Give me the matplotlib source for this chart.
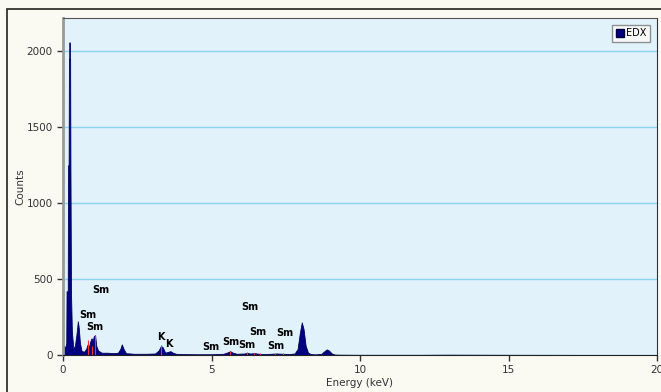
import matplotlib
matplotlib.use("Agg")
import matplotlib.pyplot as plt
from matplotlib.patches import Rectangle
from matplotlib.lines import Line2D

# spectrum outline (energy keV, counts)
energy = [0.00, 0.03, 0.08, 0.11, 0.12, 0.16, 0.17, 0.19, 0.20, 0.215, 0.22, 0.225,
          0.24, 0.25, 0.27, 0.30, 0.35, 0.40, 0.45, 0.50, 0.53, 0.57, 0.62, 0.70,
          0.78, 0.83, 0.87, 0.92, 0.96, 1.00, 1.04, 1.08, 1.12, 1.18, 1.30, 1.50,
          1.70, 1.85, 1.93, 1.98, 2.04, 2.12, 2.40, 2.80, 3.10, 3.22, 3.30, 3.36,
          3.44, 3.52, 3.62, 3.70, 3.80, 4.00, 4.50, 5.00, 5.40, 5.55, 5.63, 5.72,
          5.85, 6.10, 6.20, 6.30, 6.45, 6.60, 6.80, 7.00, 7.20, 7.40, 7.60, 7.80,
          7.90, 7.97, 8.04, 8.10, 8.17, 8.25, 8.35, 8.50, 8.70, 8.80, 8.88, 8.95,
          9.05, 9.15, 9.30, 10.0, 12.0, 13.0, 15.0, 20.0]
counts = [0, 60, 50, 80, 420, 420, 1250, 1250, 1950, 1950, 2060, 1950,
          1950, 1250, 400, 150, 40, 60, 130, 222, 180, 80, 30, 20,
          40, 70, 50, 90, 110, 95, 125, 130, 60, 30, 15, 15,
          12, 15, 40, 70, 40, 12, 8, 8, 10, 30, 60, 50,
          15, 20, 25, 15, 8, 6, 5, 5, 8, 18, 25, 15,
          8, 10, 14, 10, 12, 8, 6, 8, 10, 8, 6, 10,
          40, 140, 215, 170, 60, 15, 6, 4, 8, 25, 37, 30,
          10, 3, 2, 1, 1, 2, 1, 0]

# element marker lines (red)
line_e = [0.84, 0.98, 1.07, 3.31, 5.63, 6.20, 6.42, 6.62, 7.15, 7.42]
line_h = [100, 60, 135, 65, 28, 18, 15, 12, 10, 10]

# element labels
lab_txt = ["Sm", "Sm", "Sm", "K", "K", "Sm", "Sm", "Sm", "Sm", "Sm", "Sm", "Sm"]
lab_x = [1.27, 0.83, 1.07, 3.29, 3.56, 4.97, 5.65, 6.18, 6.29, 6.56, 7.16, 7.46]
lab_y = [426, 261, 182, 116, 70, 51, 83, 64, 314, 149, 57, 143]

fig = plt.figure(figsize=(6.61, 3.92), dpi=100, facecolor="#FAFAF3")
ax = fig.add_axes([63 / 661, 37 / 392, 594 / 661, 337 / 392])
ax.set_facecolor("#E1F2FB")

# outer frame
fig.patches.append(Rectangle((7 / 661, -0.05), 1.1, (392 - 9) / 392 + 0.05,
                             transform=fig.transFigure, fill=False,
                             edgecolor="#222222", linewidth=1.2))

ax.grid(axis="y", color="#8AD4F0", linewidth=1.0)
ax.set_axisbelow(True)

ax.fill_between(energy, counts, 0, color="#000080", linewidth=0.6,
                edgecolor="#000060", zorder=2)
ax.vlines(line_e, 0, line_h, color="#FF3030", linewidth=0.8, zorder=3)

for t, x, y in zip(lab_txt, lab_x, lab_y):
    ax.text(x, y, t, ha="center", va="center", fontsize=7,
            fontweight="bold", color="black", zorder=4)

ax.set_xlim(0, 20)
ax.set_ylim(0, 2220)
ax.set_xticks([0, 5, 10, 15, 20])
ax.set_yticks([0, 500, 1000, 1500, 2000])
ax.tick_params(axis="both", labelsize=7.5, labelcolor="#333333",
               color="#333333", length=4, width=1, direction="out")

ax.spines["left"].set_color("#9A9A9A")
ax.spines["left"].set_linewidth(2)
ax.spines["bottom"].set_color("#222222")
ax.spines["top"].set_color("#555555")
ax.spines["right"].set_color("#333333")

ax.set_xlabel("Energy (keV)", fontsize=7.5, color="#333333", labelpad=2)
ax.set_ylabel("Counts", fontsize=7.5, color="#333333", labelpad=1)

handle = Line2D([], [], marker="s", linestyle="none", markersize=6,
                markerfacecolor="#000080", markeredgecolor="#000040")
leg = ax.legend([handle], ["EDX"], loc="upper right", fontsize=7,
                frameon=True, fancybox=False, handletextpad=0.3,
                handlelength=0.8, borderpad=0.35, borderaxespad=0.7)
leg.get_frame().set_edgecolor("#777777")
leg.get_frame().set_facecolor("#FDFDF8")
leg.get_frame().set_linewidth(1)

fig.savefig("out.png", dpi=100, facecolor=fig.get_facecolor())
